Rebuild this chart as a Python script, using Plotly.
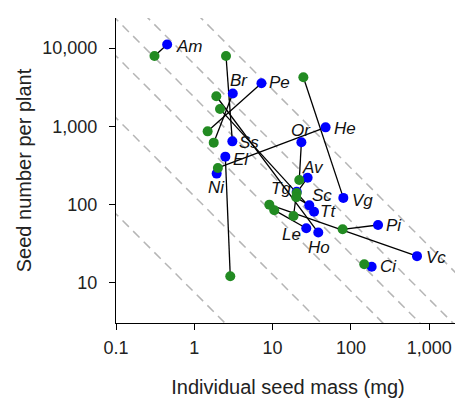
import math
import plotly.graph_objects as go

# ---- data ----
species = ["Am", "Br", "Pe", "Ss", "El", "Ni", "He", "Or", "Av", "Tg",
           "Sc", "Tt", "Le", "Ho", "Vg", "Pi", "Vc", "Ci"]
blue_mass = [0.45, 3.1, 7.2, 3.06, 2.49, 1.93, 47.5, 23.3, 28.0, 20.3,
             29.4, 33.8, 26.9, 38.3, 80.0, 222.0, 698.0, 184.0]
blue_seeds = [11100, 2620, 3540, 643, 410, 249, 970, 625, 221, 146,
              98, 81, 50, 44, 122, 55, 22, 16.1]
green_mass = [0.31, 1.77, 1.48, 2.54, 2.88, None, 2.0, 21.9, 20.3, 18.5,
              20.0, 2.13, 10.5, 1.91, 24.7, 78.4, 9.08, 148.0]
green_seeds = [7900, 619, 863, 7900, 12.2, None, 294, 206, 141, 71.6,
               124, 1660, 85, 2420, 4230, 48.4, 100, 17.3]
# total seed mass per plant (mg) for the dashed iso-lines
iso_totals = [7.6, 128, 790, 2345, 6190, 29400]

x_ticks = [0.1, 1, 10, 100, 1000]
x_ticktext = ["0.1", "1", "10", "100", "1,000"]
y_ticks = [10, 100, 1000, 10000]
y_ticktext = ["10", "100", "1,000", "10,000"]

# label placement (style): xanchor, xshift, yshift
label_pos = {
    "Am": ("left", 7, -2), "Br": ("center", 6, 13), "Pe": ("left", 6, 1),
    "Ss": ("left", 5, -1), "El": ("left", 6, -3), "Ni": ("center", 0, -14),
    "He": ("left", 6, -1), "Or": ("center", 0, 12), "Av": ("center", 5, 10),
    "Tg": ("center", -16, 3), "Sc": ("center", 13, 10), "Tt": ("left", 4, 0),
    "Le": ("center", -15, -6), "Ho": ("center", 1, -15), "Vg": ("left", 7, -3),
    "Pi": ("left", 6, -1), "Vc": ("left", 7, -1), "Ci": ("left", 6, 0),
}

FONT = "Liberation Sans, Arial, Helvetica, sans-serif"
fig = go.Figure()

# dashed iso-lines of equal total seed mass
x_span = [0.01, 1e4]
for t in iso_totals:
    fig.add_trace(go.Scatter(
        x=x_span, y=[t / v for v in x_span], mode="lines",
        line=dict(color="#b5b5b5", width=1.5, dash="9px,6px"),
        hoverinfo="skip", showlegend=False))

# connecting lines
lx, ly = [], []
for bm, bs, gm, gs in zip(blue_mass, blue_seeds, green_mass, green_seeds):
    if gm is None:
        continue
    lx += [bm, gm, None]
    ly += [bs, gs, None]
fig.add_trace(go.Scatter(x=lx, y=ly, mode="lines",
                         line=dict(color="black", width=1.3),
                         hoverinfo="skip", showlegend=False))

fig.add_trace(go.Scatter(x=blue_mass, y=blue_seeds, mode="markers",
                         marker=dict(color="#0000ff", size=10),
                         showlegend=False))
fig.add_trace(go.Scatter(x=[g for g in green_mass if g is not None],
                         y=[g for g in green_seeds if g is not None],
                         mode="markers",
                         marker=dict(color="#228b22", size=10),
                         showlegend=False))

for sp, bm, bs in zip(species, blue_mass, blue_seeds):
    anc, xs, ys = label_pos[sp]
    fig.add_annotation(x=math.log10(bm), y=math.log10(bs), xref="x", yref="y",
                       text="<i>%s</i>" % sp,
                       showarrow=False, xanchor=anc, yanchor="middle",
                       xshift=xs, yshift=ys,
                       font=dict(family=FONT, size=17, color="#111"))

axis_common = dict(type="log", showgrid=False, zeroline=False, showline=True,
                   linecolor="black", linewidth=1.2, ticks="outside",
                   ticklen=6, tickwidth=1.2, tickcolor="black",
                   automargin=False,
                   tickfont=dict(family=FONT, size=18, color="#222"))

# page body has an 8px default margin, so the figure is 8px smaller
fig.update_layout(
    width=455, height=390,
    margin=dict(l=108, r=3, t=10, b=75),
    paper_bgcolor="white", plot_bgcolor="white",
    xaxis=dict(range=[-1, 3.393], tickvals=x_ticks, ticktext=x_ticktext,
               ticklabelstandoff=2,
               title=dict(text="Individual seed mass (mg)", standoff=26,
                          font=dict(family=FONT, size=20, color="#222")),
               **axis_common),
    yaxis=dict(range=[0.489, 4.383], tickvals=y_ticks, ticktext=y_ticktext,
               ticklabelstandoff=8,
               title=dict(text="Seed number per plant", standoff=5,
                          font=dict(family=FONT, size=20, color="#222")),
               **axis_common),
)

fig.write_html("out.html")
